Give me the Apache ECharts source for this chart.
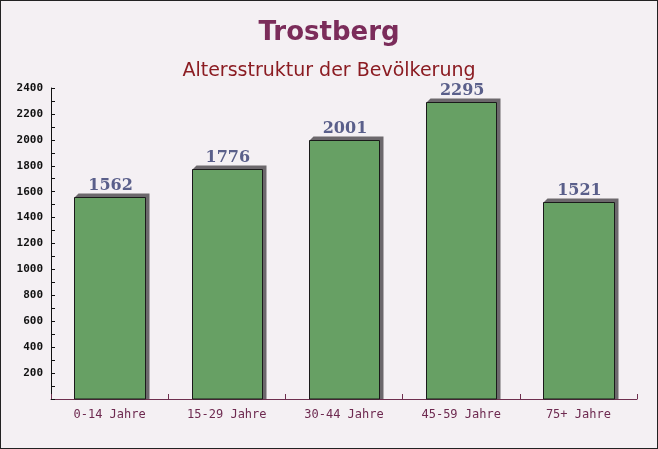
<!DOCTYPE html>
<html><head><meta charset="utf-8">
<script src="https://cdn.jsdelivr.net/npm/echarts@6/dist/echarts.min.js"></script>
<style>
html,body{margin:0;padding:0;}
#c{width:656px;height:447px;border:1px solid #222;background:#f4f0f3;}
</style></head>
<body><div id="c"></div>
<script>
const categories = ['0-14 Jahre','15-29 Jahre','30-44 Jahre','45-59 Jahre','75+ Jahre'];
const values = [1562, 1776, 2001, 2295, 1521];
const titleText = 'Trostberg';
const subtitleText = 'Altersstruktur der Bevölkerung';

const chart = echarts.init(document.getElementById('c'));
function renderBar(params, api){
  const idx = api.value(0), v = api.value(1);
  const top = api.coord([idx, v]);
  const base = api.coord([idx, 0]);
  const w = api.size([1,0])[0]*0.6;
  const x0 = Math.round(top[0]-w/2)+0.5, x1 = Math.round(top[0]+w/2)+0.5;
  const y0 = Math.round(top[1])+0.5, yb = base[1];
  const d = 4;
  return {type:'group',children:[
    {type:'polygon',shape:{points:[[x0,y0],[x0+d,y0-d],[x1+d,y0-d],[x1+d,yb],[x1,yb]]},
      style:{fill:'#6c686c'}},
    {type:'rect',shape:{x:x0,y:y0,width:x1-x0,height:yb-y0},
      style:{fill:'#67a064',stroke:'#1a1a1a',lineWidth:1}},
    {type:'text',x:top[0]+1,y:y0-4,style:{text:String(v),textAlign:'center',textVerticalAlign:'bottom',
      font:'bold 16px "DejaVu Serif"',fill:'#5a5f8a'}}
  ]};
}
chart.setOption({
  animation:false,
  title:[
    {text:titleText,left:'center',top:14,textStyle:{fontFamily:'DejaVu Sans',fontWeight:'bold',fontSize:26,color:'#7b2c5a'}},
    {text:subtitleText,left:'center',top:56,textStyle:{fontFamily:'DejaVu Sans',fontWeight:'normal',fontSize:19,color:'#8b1c22'}}
  ],
  grid:{left:50,right:20,top:87,bottom:49},
  xAxis:{type:'category',data:categories,
    axisLine:{lineStyle:{color:'#6e2f4e',width:1}},
    axisTick:{show:true,inside:true,length:5,lineStyle:{color:'#6e2f4e'}},
    axisLabel:{fontFamily:'DejaVu Sans Mono',fontSize:12,color:'#6e2a50',margin:10}},
  yAxis:{type:'value',min:0,max:2400,interval:100,
    splitLine:{show:false},
    axisLine:{show:true,lineStyle:{color:'#111',width:1}},
    axisTick:{show:true,inside:true,length:4,lineStyle:{color:'#111'}},
    axisLabel:{fontFamily:'DejaVu Sans Mono',fontWeight:'bold',fontSize:11,color:'#111',margin:8,
      formatter:function(v){return (v===0||v%200!==0)?'':v;}}},
  series:[{type:'custom',renderItem:renderBar,
    data:values.map(function(v,i){return [i,v];}),
    encode:{x:0,y:1}}]
});
</script></body></html>
